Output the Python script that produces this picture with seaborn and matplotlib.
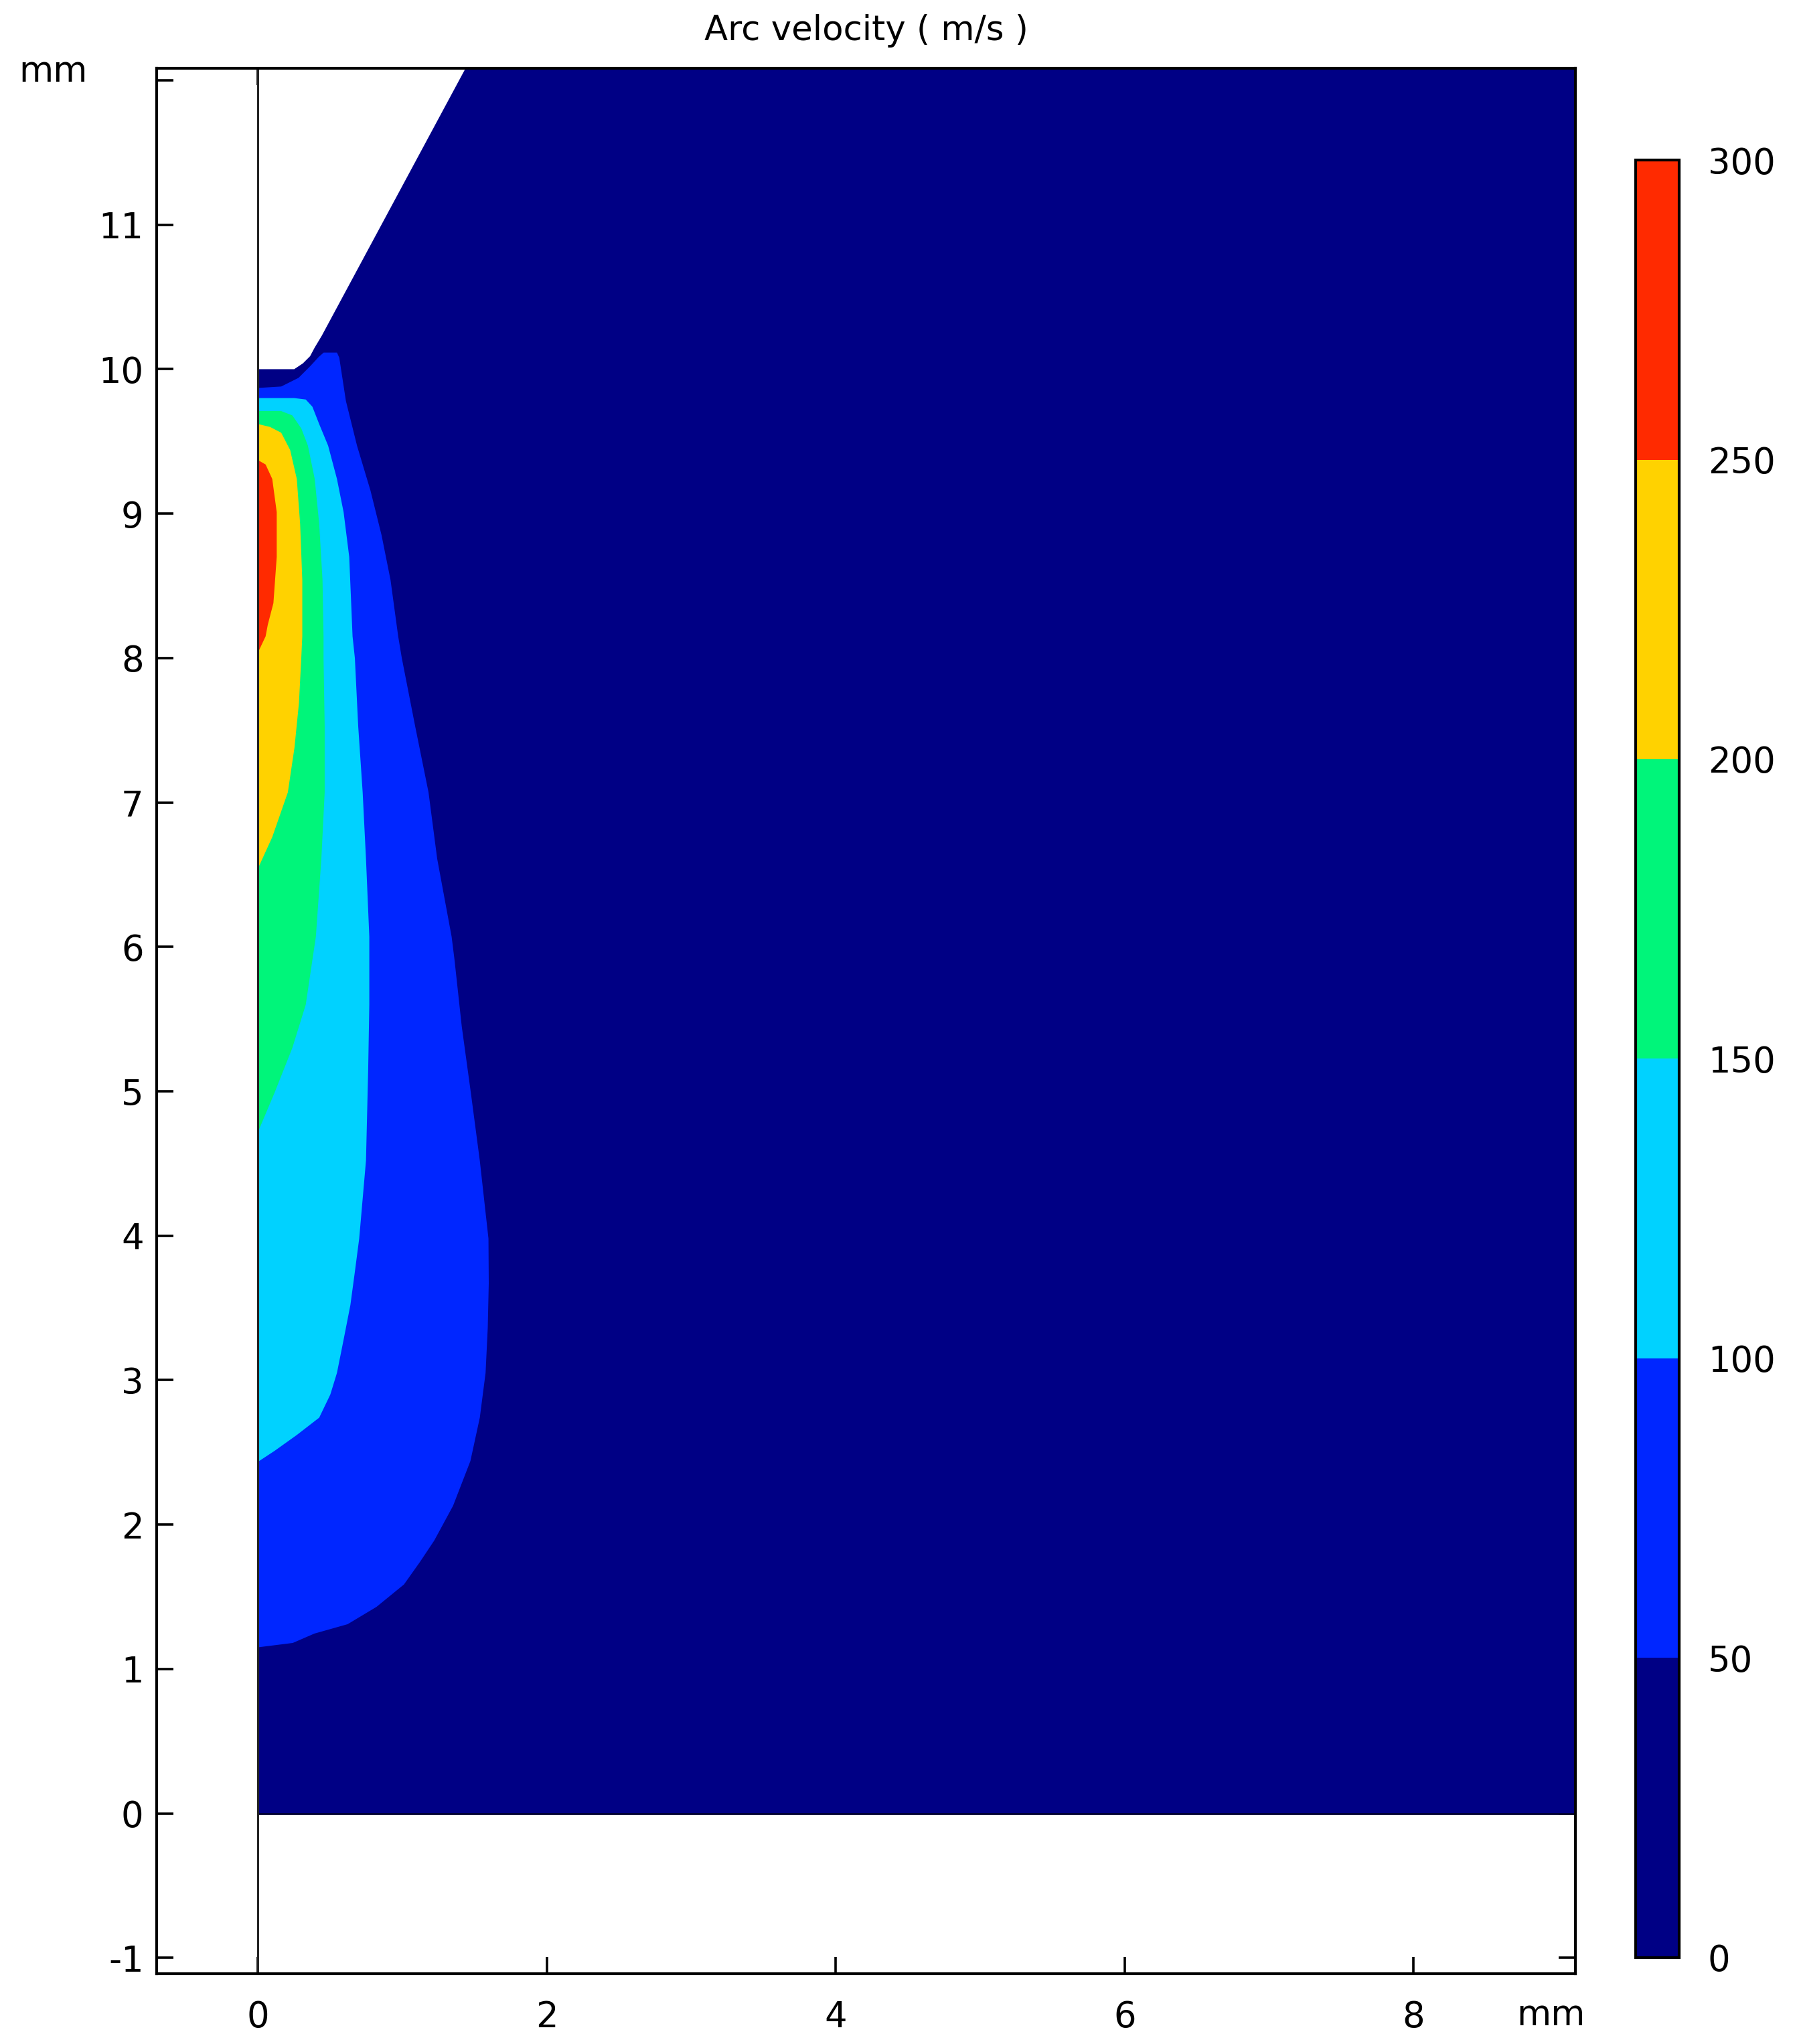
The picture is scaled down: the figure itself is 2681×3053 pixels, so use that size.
import matplotlib
matplotlib.use("Agg")
import matplotlib.pyplot as plt
import seaborn as sns
from matplotlib.colors import ListedColormap, BoundaryNorm
from matplotlib.cm import ScalarMappable

# contour levels (m/s) and band colours
levels = [0, 50, 100, 150, 200, 250, 300]
band_colors = ["#000085", "#0026ff", "#00d2ff", "#00f57a", "#ffd200", "#ff2a00"]

# iso-velocity contours, r / z in mm
r_50 = [0, 0.24, 0.39, 0.62, 0.82, 1.01, 1.12, 1.22, 1.35, 1.47, 1.535, 1.575, 1.59, 1.597,
        1.595, 1.535, 1.473, 1.41, 1.36, 1.34, 1.24, 1.18, 1.087, 0.995, 0.97, 0.917, 0.855,
        0.778, 0.685, 0.608, 0.562, 0.546, 0.454, 0.42, 0.36, 0.28, 0.16, 0]
z_50 = [1.15, 1.18, 1.245, 1.31, 1.43, 1.585, 1.74, 1.89, 2.13, 2.44, 2.74, 3.05, 3.36, 3.67,
        3.98, 4.52, 4.99, 5.45, 5.91, 6.07, 6.61, 7.07, 7.53, 8.0, 8.15, 8.54, 8.85,
        9.16, 9.47, 9.78, 10.08, 10.115, 10.115, 10.085, 10.02, 9.94, 9.88, 9.87]

r_100 = [0, 0.114, 0.268, 0.423, 0.50, 0.546, 0.592, 0.639, 0.67, 0.70, 0.747, 0.762, 0.77,
         0.77, 0.747, 0.724, 0.693, 0.67, 0.654, 0.631, 0.592, 0.546, 0.485, 0.423, 0.376,
         0.33, 0.25, 0]
z_100 = [2.435, 2.51, 2.62, 2.74, 2.90, 3.05, 3.28, 3.52, 3.75, 3.98, 4.52, 5.14, 5.60,
         6.07, 6.61, 7.07, 7.53, 8.0, 8.15, 8.70, 9.01, 9.24, 9.47, 9.62, 9.74,
         9.79, 9.80, 9.80]

r_150 = [0, 0.114, 0.237, 0.33, 0.376, 0.40, 0.438, 0.461, 0.461, 0.453, 0.453, 0.446, 0.423,
         0.392, 0.345, 0.299, 0.237, 0.16, 0]
z_150 = [4.72, 4.99, 5.30, 5.60, 5.91, 6.07, 6.61, 7.07, 7.53, 8.0, 8.15, 8.54, 8.93,
         9.24, 9.47, 9.59, 9.68, 9.71, 9.71]

r_200 = [0, 0.098, 0.206, 0.252, 0.283, 0.299, 0.306, 0.306, 0.291, 0.268, 0.222, 0.16, 0.083, 0]
z_200 = [6.545, 6.76, 7.07, 7.38, 7.69, 8.0, 8.15, 8.54, 8.93, 9.24, 9.44, 9.56, 9.60, 9.62]

r_250 = [0, 0.052, 0.067, 0.106, 0.129, 0.129, 0.098, 0.052, 0]
z_250 = [8.04, 8.15, 8.23, 8.38, 8.70, 9.01, 9.24, 9.34, 9.37]

# electrode (cathode) outline and computational domain, mm
electrode_r = [0, 0.25, 0.31, 0.36, 0.392, 0.44, 1.44, 1.56, 0]
electrode_z = [10.0, 10.0, 10.04, 10.09, 10.15, 10.23, 12.09, 12.3, 12.3]
domain_r = [0, 9.4]
domain_z = [0, 12.3]

contours = [(r_50, z_50), (r_100, z_100), (r_150, z_150), (r_200, z_200), (r_250, z_250)]

sns.set_theme(style="white")
plt.rcParams["font.family"] = ["DejaVu Sans"]
plt.rcParams["text.color"] = "black"
plt.rcParams["xtick.color"] = "black"
plt.rcParams["ytick.color"] = "black"

fig = plt.figure(figsize=(13.405, 15.265), dpi=200)
ax = fig.add_axes([0.0873, 0.0344, 0.7904, 0.9323])

ax.fill_between(domain_r, domain_z[0], domain_z[1], color=band_colors[0], lw=0, zorder=1)
ax.plot(domain_r, [domain_z[0], domain_z[0]], color="#000030", lw=1.0, zorder=1.5)
for (r, z), c in zip(contours, band_colors[1:]):
    ax.fill(r, z, color=c, lw=0, zorder=2)
ax.fill(electrode_r, electrode_z, color="white", lw=0, zorder=3)
ax.axvline(0, color="#222222", lw=1.1, zorder=4)

ax.set_xlim(-0.702, 9.121)
ax.set_ylim(-1.110, 12.085)
ax.set_xticks([0, 2, 4, 6, 8])
ax.set_yticks(list(range(-1, 13)))
ax.set_yticklabels([str(v) for v in range(-1, 12)] + [""])
ax.tick_params(direction="in", bottom=True, left=True, top=True, right=True,
               length=9, width=1.3, labelsize=19, color="black", labelcolor="black")
ax.tick_params(axis="x", pad=14)
ax.tick_params(axis="y", pad=7)
for s in ax.spines.values():
    s.set_color("black")
    s.set_linewidth(1.5)
    s.set_zorder(5)
ax.set_title("Arc velocity ( m/s )", fontsize=18.5, pad=15, color="black")

fig.text(0.0298, 0.9649, "mm", fontsize=19, ha="center", va="center")
fig.text(0.8642, 0.0140, "mm", fontsize=19, ha="center", va="center")

# colour bar
cmap = ListedColormap(band_colors)
norm = BoundaryNorm(levels, cmap.N)
cax = fig.add_axes([0.9112, 0.0423, 0.0242, 0.8794])
cb = fig.colorbar(ScalarMappable(norm=norm, cmap=cmap), cax=cax, ticks=levels)
cb.outline.set_linewidth(1.5)
cb.outline.set_edgecolor("black")
cax.tick_params(length=0, pad=15.5, labelsize=19, labelcolor="black")

fig.savefig("out.png", dpi=200)
